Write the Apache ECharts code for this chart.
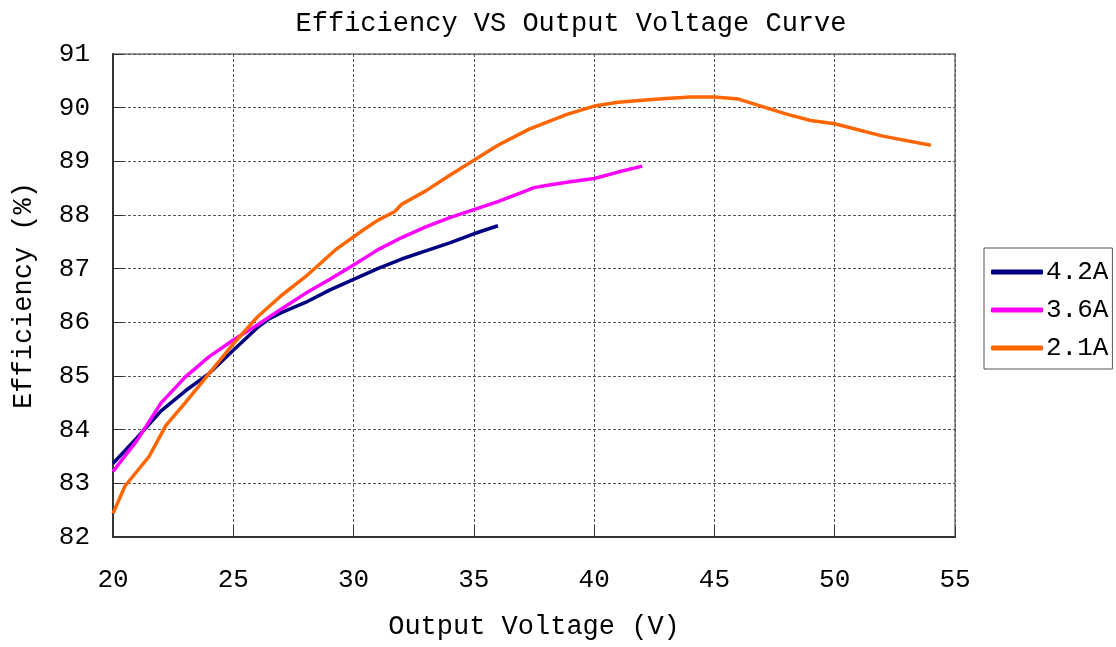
<!DOCTYPE html>
<html>
<head>
<meta charset="utf-8">
<script src="https://cdn.jsdelivr.net/npm/echarts@6/dist/echarts.min.js"></script>
<style>
  html, body { margin: 0; padding: 0; background: #fff; }
  #chart { width: 1116px; height: 647px; }
</style>
</head>
<body>
<div id="chart"></div>
<script>
// x: output voltage (V), y: efficiency (%)
const v42 = [20, 21, 22, 23, 24, 25, 26, 26.5, 27, 28, 29, 30, 31, 32, 33, 34, 35, 36]
const eff42 = [83.37, 83.85, 84.35, 84.72, 85.05, 85.48, 85.9, 86.07, 86.18, 86.37, 86.6, 86.8, 87.0, 87.18, 87.33, 87.48, 87.65, 87.8]

const v36 = [20, 21, 22, 23, 24, 25, 26, 27, 28, 29, 30, 31, 32, 33, 34, 35, 36, 37, 37.5, 38, 39, 40, 41, 42]
const eff36 = [83.22, 83.8, 84.5, 84.98, 85.36, 85.67, 85.95, 86.25, 86.54, 86.8, 87.07, 87.35, 87.58, 87.78, 87.95, 88.1, 88.25, 88.42, 88.51, 88.55, 88.62, 88.68, 88.8, 88.91]

const v21 = [20, 20.5, 21.5, 22.2, 23, 24, 25, 26, 27, 28, 29.3, 30.4, 31, 31.7, 32, 33, 34, 35, 36, 37.3, 38.9, 40, 41, 42, 43, 44, 45, 46, 48, 49, 50, 52, 54]
const eff21 = [82.44, 82.95, 83.5, 84.08, 84.5, 85.05, 85.6, 86.1, 86.5, 86.85, 87.37, 87.72, 87.9, 88.06, 88.2, 88.45, 88.74, 89.02, 89.3, 89.6, 89.88, 90.03, 90.1, 90.14, 90.17, 90.2, 90.2, 90.16, 89.88, 89.76, 89.7, 89.47, 89.3]

const seriesNames = ['4.2A', '3.6A', '2.1A']
const seriesColors = ['#000080', '#FF00FF', '#FF6600']

const font = 'Liberation Mono, DejaVu Sans Mono, monospace'

function pairs (xs, ys) {
  return xs.map((x, i) => [x, ys[i]])
}

const allData = [pairs(v42, eff42), pairs(v36, eff36), pairs(v21, eff21)]

const gridLine = {
  show: true,
  lineStyle: { color: '#555', type: [3, 2], width: 1 }
}

const chart = echarts.init(document.getElementById('chart'))
chart.setOption({
  animation: false,
  backgroundColor: '#fff',
  title: {
    text: 'Efficiency VS Output Voltage Curve',
    left: 566,
    textAlign: 'center',
    top: 5,
    textStyle: { fontFamily: font, fontSize: 27, fontWeight: 'normal', color: '#000' }
  },
  legend: {
    orient: 'vertical',
    left: 984,
    top: 248,
    width: 125,
    padding: [11, 4, 8, 7],
    itemGap: 12,
    itemWidth: 52,
    itemHeight: 5,
    icon: 'roundRect',
    borderColor: '#555',
    borderWidth: 1,
    textStyle: { fontFamily: font, fontSize: 26, color: '#000', padding: [0, 0, 0, -2] },
    data: seriesNames
  },
  grid: {
    left: 113,
    top: 54,
    right: 161,
    bottom: 110,
    show: true,
    borderColor: '#999',
    borderWidth: 2,
    containLabel: false,
    outerBoundsMode: 'none'
  },
  xAxis: {
    type: 'value',
    min: 20,
    max: 55,
    interval: 5,
    name: 'Output Voltage (V)',
    nameLocation: 'middle',
    nameGap: 76,
    nameTextStyle: { fontFamily: font, fontSize: 27, color: '#000' },
    axisLine: { show: true, lineStyle: { color: '#333', width: 2 } },
    axisTick: { show: true, inside: true, length: 10, lineStyle: { color: '#333' } },
    axisLabel: { fontFamily: font, fontSize: 26, color: '#000', margin: 30 },
    splitLine: gridLine
  },
  yAxis: {
    type: 'value',
    min: 82,
    max: 91,
    interval: 1,
    name: 'Efficiency (%)',
    nameLocation: 'middle',
    nameRotate: 90,
    nameGap: 76,
    nameTextStyle: { fontFamily: font, fontSize: 27, color: '#000' },
    axisLine: { show: true, lineStyle: { color: '#333', width: 2 } },
    axisTick: { show: true, inside: true, length: 10, lineStyle: { color: '#333' } },
    axisLabel: { fontFamily: font, fontSize: 26, color: '#000', margin: 23 },
    splitLine: gridLine
  },
  series: seriesNames.map((name, i) => ({
    name: name,
    type: 'line',
    data: allData[i],
    symbol: 'none',
    smooth: false,
    lineStyle: { color: seriesColors[i], width: 3.5 },
    itemStyle: { color: seriesColors[i] }
  }))
})
</script>
</body>
</html>
